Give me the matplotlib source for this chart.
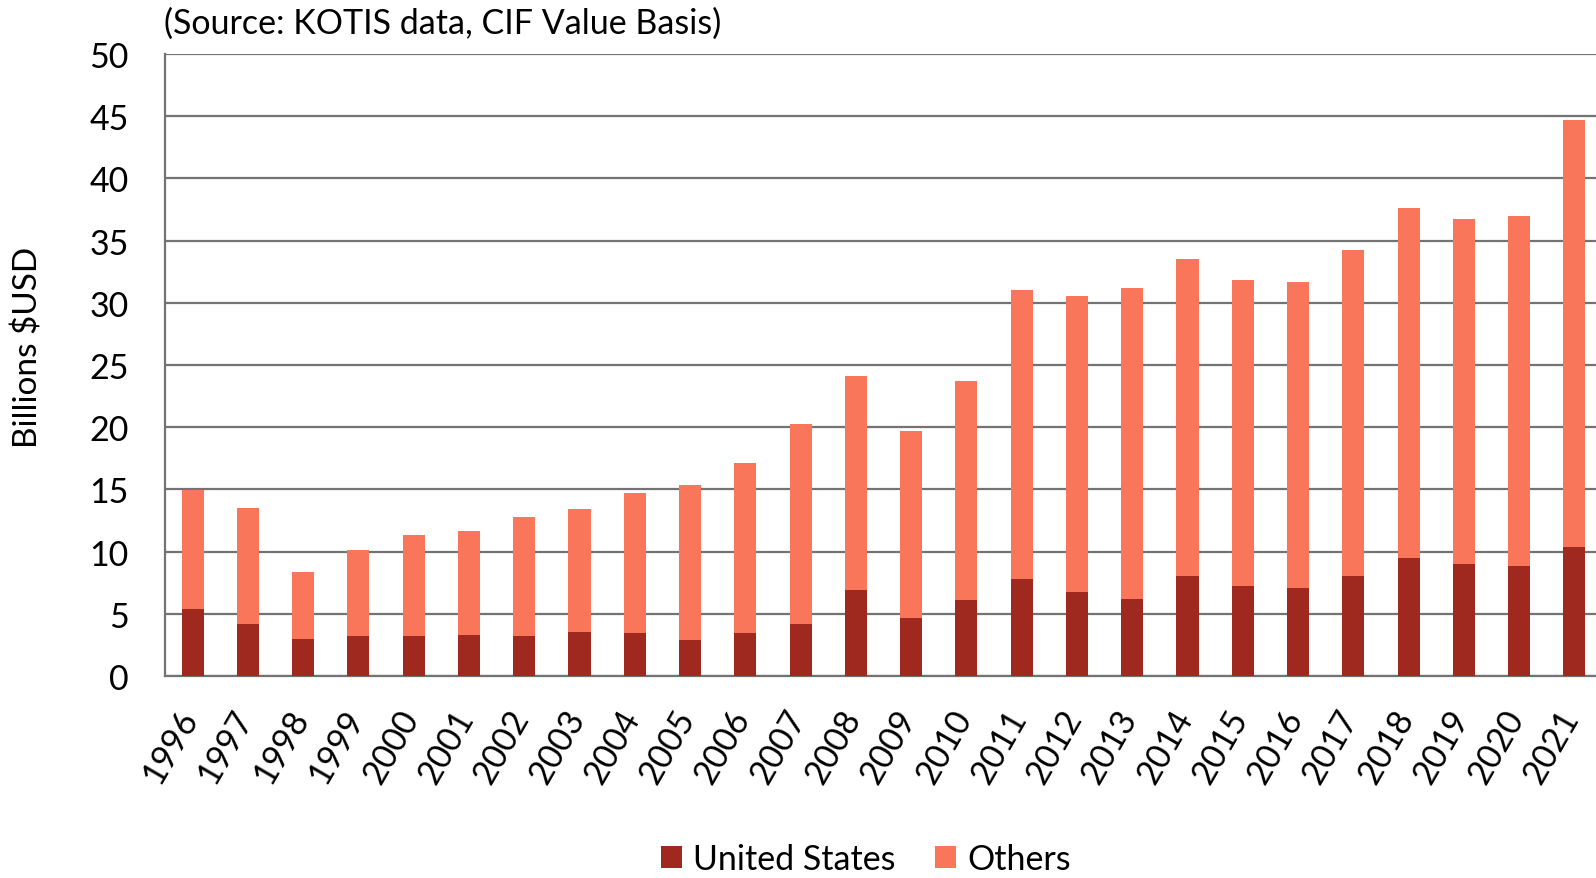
import numpy as np
import matplotlib
matplotlib.use("Agg")
import matplotlib.pyplot as plt
import matplotlib.transforms as mtrans

plt.rcParams['font.family'] = ['Lato', 'DejaVu Sans']

years = [str(y) for y in range(1996, 2022)]
us = [5.36, 4.18, 2.95, 3.19, 3.19, 3.27, 3.21, 3.51, 3.46, 2.89, 3.43, 4.18,
      6.9, 4.65, 6.13, 7.79, 6.73, 6.19, 8.06, 7.25, 7.04, 8.0, 9.45, 9.03, 8.88, 10.33]
total = [14.97, 13.5, 8.38, 10.15, 11.3, 11.63, 12.78, 13.39, 14.68, 15.35, 17.09, 20.25,
         24.1, 19.66, 23.74, 31.02, 30.53, 31.17, 33.49, 31.8, 31.71, 34.25, 37.6, 36.7, 36.94, 44.67]
others = [t - u for t, u in zip(total, us)]

US_COL = '#A0291F'
OTH_COL = '#F9765B'
FS = 24.5

W, H = 1596, 879
fig = plt.figure(figsize=(W / 100, H / 100), dpi=100)
ax = fig.add_axes([165 / W, 1 - 677 / H, (1602 - 165) / W, (677 - 55) / H])

x = np.arange(len(years))
ax.bar(x, us, width=0.4, color=US_COL, label='United States', zorder=3)
ax.bar(x, others, width=0.4, bottom=us, color=OTH_COL, label='Others', zorder=3)

ax.set_xlim(-0.5, 25.5)
ax.set_ylim(0, 50)
ax.set_yticks(range(0, 51, 5))
ax.yaxis.grid(True, color='#737373', lw=1.6, zorder=0)
ax.set_axisbelow(True)

for s in ['top', 'right']:
    ax.spines[s].set_visible(False)
for s in ['left', 'bottom']:
    ax.spines[s].set_color('#737373')
    ax.spines[s].set_linewidth(1.6)

ax.tick_params(axis='y', length=0, pad=26, labelsize=FS)
ax.tick_params(axis='x', length=0, pad=20, labelsize=FS)
ax.set_xticks(x)
ax.set_xticklabels(years, rotation=60, ha='right', va='top')
offset = mtrans.ScaledTranslation(11 / 100, 0, fig.dpi_scale_trans)
for lab in ax.get_xticklabels():
    lab.set_transform(lab.get_transform() + offset)

fig.text(28.5 / W, 1 - 347 / H, 'Billions $USD', rotation=90, fontsize=24,
         ha='center', va='center')
fig.text(164 / W, 1 - 24 / H, '(Source: KOTIS data, CIF Value Basis)', fontsize=FS,
         ha='left', va='center')

fig.legend(loc='center', bbox_to_anchor=(866 / W, 19 / H), ncol=2, frameon=False,
           fontsize=FS, handlelength=0.62, handleheight=0.62, handletextpad=0.33,
           columnspacing=1.15, borderpad=0)

fig.savefig('out.png', dpi=100)
